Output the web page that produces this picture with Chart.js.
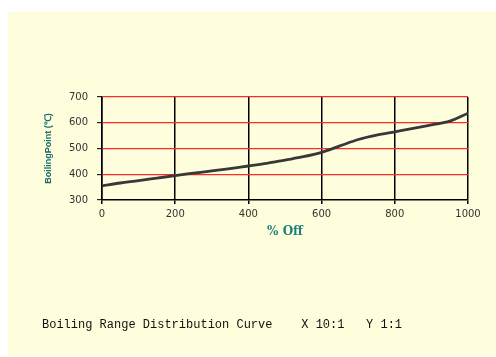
<!DOCTYPE html>
<html><head><meta charset="utf-8">
<script src="https://cdn.jsdelivr.net/npm/chart.js@4"></script>
<style>
html,body{margin:0;padding:0;width:496px;height:357px;overflow:hidden;background:#fff}
#bg{position:absolute;left:8px;top:12px;width:488px;height:344px;background:#FEFEDC}
#wrap{position:absolute;left:0;top:0;width:496px;height:357px}
#foot{position:absolute;left:42px;top:318px;font:12px "Liberation Mono",monospace;white-space:pre;color:#111}
</style></head><body>
<div id="bg"></div>
<div id="wrap"><canvas id="c" width="496" height="357"></canvas></div>
<div id="foot">Boiling Range Distribution Curve    X 10:1   Y 1:1</div>
<script>
const percentOff = [0,50,100,150,200,250,300,350,400,450,500,550,600,650,700,750,800,850,900,950,1000];
const boilingPoint = [355,366,375,385,395,404,413,422,432,442,455,468,485,510,535,552,565,578,592,606,637];
const xTicks = [0,200,400,600,800,1000];
const yTicks = [300,400,500,600,700];

new Chart(document.getElementById('c'), {
  type: 'scatter',
  data: {
    datasets: [{
      data: percentOff.map((x,i)=>({x, y: boilingPoint[i]})),
      showLine: true,
      borderColor: '#383838',
      borderWidth: 2.8,
      pointRadius: 0,
      cubicInterpolationMode: 'monotone'
    }]
  },
  options: {
    responsive: false,
    animation: false,
    plugins: { legend: {display:false}, tooltip: {enabled:false} },
    layout: { padding: {left:0, right:28, top:97, bottom:117} },
    scales: {
      x: {
        type: 'linear', min: 0, max: 1000,
        afterBuildTicks: s => { s.ticks = xTicks.map(v=>({value:v})); },
        afterFit: s => { s.height = 40; },
        grid: { color: '#000', lineWidth: 1.5, tickLength: 4, tickColor: '#000' },
        border: { color: '#000', width: 1.5 },
        ticks: { font: {family:'DejaVu Sans', size:10}, color:'#333', padding: 4, maxRotation:0, callback: v => String(v) },
        title: { display: true, text: '% Off', color: '#1f7f7f', font: {family:'DejaVu Serif', size:12, weight:'bold'}, padding: {top:0, bottom:1} }
      },
      y: {
        min: 300, max: 700,
        afterBuildTicks: s => { s.ticks = yTicks.map(v=>({value:v})); },
        afterFit: s => { s.width = 102; },
        grid: {
          color: c => c.tick && c.tick.value === 300 ? 'rgba(0,0,0,0)' : '#ff2a2a',
          lineWidth: 1.2, tickLength: 5, tickColor: '#222'
        },
        border: { color: '#000', width: 1.5 },
        ticks: { font: {family:'DejaVu Sans', size:10}, color:'#333', padding: 9, callback: v => String(v) },
        title: { display: true, text: 'BoilingPoint (℃)', color: '#1a6f6f', font: {family:'Liberation Sans', size:9, weight:'bold'}, padding: {top:43, bottom:0} }
      }
    }
  }
});
</script>
</body></html>
